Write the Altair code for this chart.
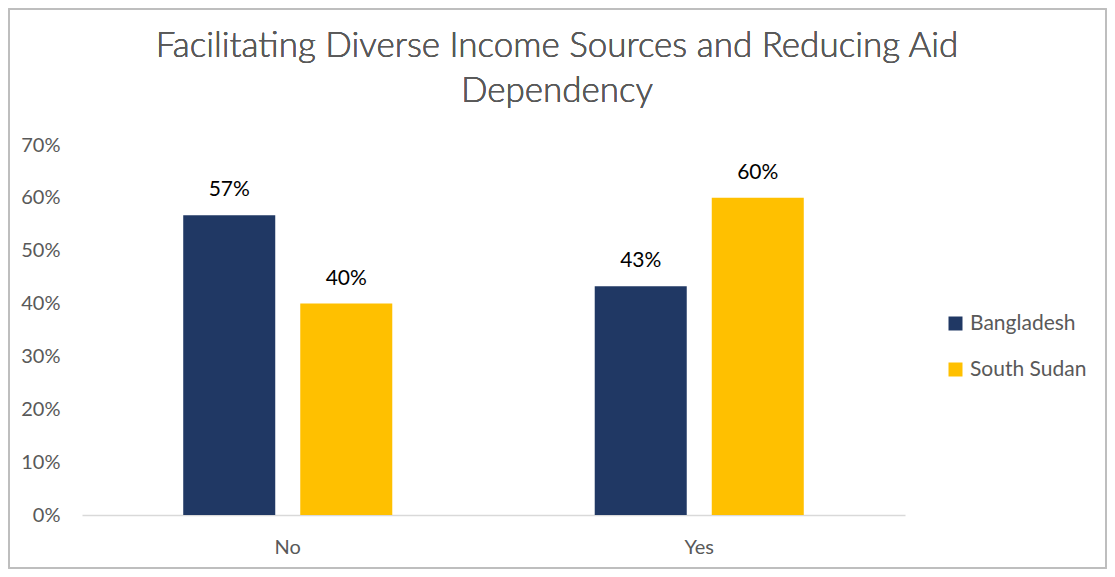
import altair as alt
import pandas as pd

categories = ["No", "No", "Yes", "Yes"]
countries = ["Bangladesh", "South Sudan", "Bangladesh", "South Sudan"]
values = [0.567, 0.40, 0.433, 0.60]
labels = ["57%", "40%", "43%", "60%"]
title_lines = ["Facilitating Diverse Income Sources and Reducing Aid", "Dependency"]

df = pd.DataFrame({"answer": categories, "country": countries, "value": values, "label": labels})

W, H = 823, 370
FONT = "Lato"
GRAY = "#595959"

x = alt.X("answer:N", title=None,
          scale=alt.Scale(paddingInner=0, paddingOuter=0),
          axis=alt.Axis(labelAngle=0, labelFontSize=20, labelColor=GRAY, labelFont=FONT,
                        labelPadding=22, ticks=False, domainColor="#D9D9D9", domainWidth=1.5))
xoff = alt.XOffset("country:N", scale=alt.Scale(paddingInner=0.2137, paddingOuter=0.865))
y = alt.Y("value:Q", title=None,
          scale=alt.Scale(domain=[0, 0.7], nice=False),
          axis=alt.Axis(format=".0%", values=[0, 0.1, 0.2, 0.3, 0.4, 0.5, 0.6, 0.7],
                        labelFontSize=20, labelColor=GRAY, labelFont=FONT, labelPadding=22,
                        ticks=False, domain=False, grid=False))
color = alt.Color("country:N", title=None,
                  scale=alt.Scale(domain=["Bangladesh", "South Sudan"], range=["#203864", "#FFC000"]),
                  legend=alt.Legend(orient="none", legendX=863, legendY=168, symbolType="square",
                                    symbolSize=196, symbolStrokeWidth=0, labelFontSize=21,
                                    labelColor=GRAY, labelFont=FONT, rowPadding=24, labelOffset=4))

bars = alt.Chart(df).mark_bar().encode(x=x, xOffset=xoff, y=y, color=color)
text = alt.Chart(df).mark_text(baseline="alphabetic", dy=-19, fontSize=21, font=FONT, color="#000000").encode(
    x=x, xOffset=xoff, y=y, text="label:N")

title = alt.Chart(df).mark_text(baseline="alphabetic", align="center", fontSize=35, font=FONT,
                                fontWeight=300, color=GRAY, lineHeight=45).encode(
    x=alt.value(475), y=alt.value(-88), text=alt.value(title_lines))

border = alt.Chart(df).mark_rect(fill=None, stroke="#BFBFBF", strokeWidth=1.5).encode(
    x=alt.value(-73), x2=alt.value(1024), y=alt.value(-136), y2=alt.value(423))

chart = alt.layer(border, bars, text, title).properties(
    width=W, height=H,
    background="white",
    autosize=alt.AutoSizeParams(type="none"),
    padding={"left": 74, "top": 137, "right": 202, "bottom": 54},
).configure_view(strokeWidth=0, stroke="transparent")

chart.save("out.html", embed_options={"renderer": "svg", "actions": False})
